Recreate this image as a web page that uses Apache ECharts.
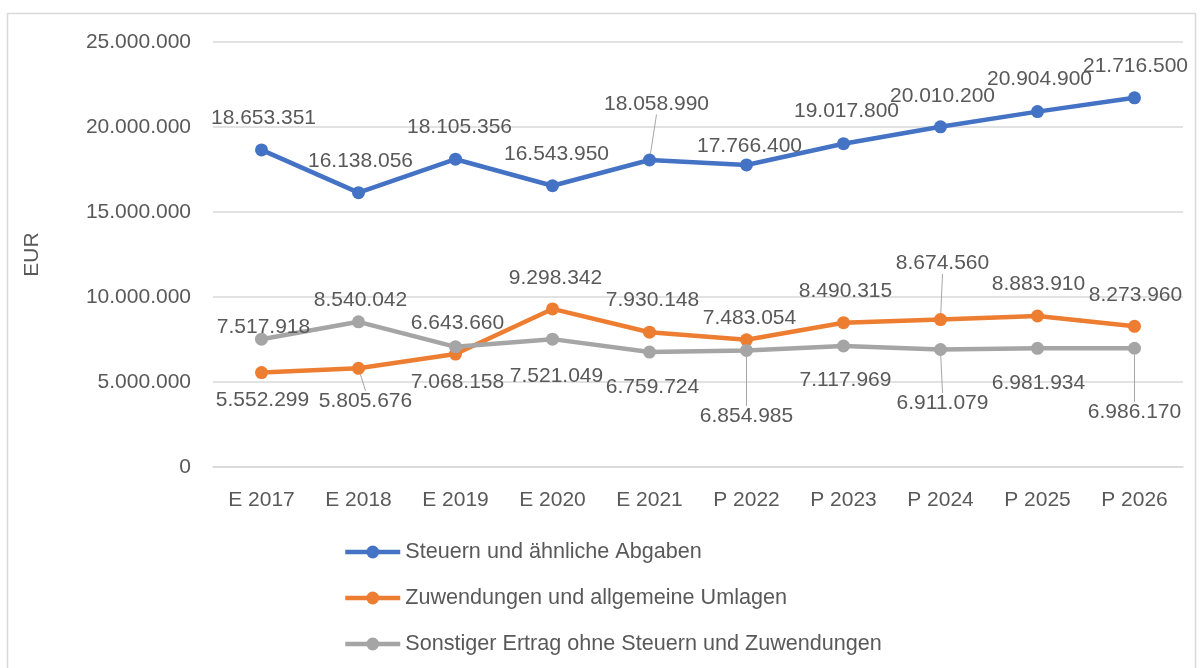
<!DOCTYPE html>
<html><head><meta charset="utf-8">
<script src="https://cdn.jsdelivr.net/npm/echarts@6/dist/echarts.min.js"></script>
<style>html,body{margin:0;padding:0;background:#fff}#c{width:1201px;height:668px}</style>
</head><body><div id="c"></div>
<script>
const categories = ['E 2017','E 2018','E 2019','E 2020','E 2021','P 2022','P 2023','P 2024','P 2025','P 2026'];
const steuern = [18653351,16138056,18105356,16543950,18058990,17766400,19017800,20010200,20904900,21716500];
const zuwendungen = [5552299,5805676,6643660,9298342,7930148,7483054,8490315,8674560,8883910,8273960];
const sonstiger = [7517918,8540042,7068158,7521049,6759724,6854985,7117969,6911079,6981934,6986170];
const seriesNames = ['Steuern und ähnliche Abgaben','Zuwendungen und allgemeine Umlagen','Sonstiger Ertrag ohne Steuern und Zuwendungen'];
const yMin = 0, yMax = 25000000, yStep = 5000000;

// label placement (layout only, offsets from point in px)
const labelOffsets = [
  [[2,-32],[2,-31],[4,-32],[4,-32],[7,-56],[3,-19],[3,-32],[2,-31],[2,-32],[1,-32]],
  [[1,28],[7,33],[2,-31],[3,-31],[3,-32],[3,-22],[2,-31],[2,-56],[1,-32],[1,-31]],
  [[2,-12],[2,-22],[2,35],[4,37],[3,35],[0,66],[2,34],[2,54],[1,35],[0,64]]
];
const leaderIdx = [[4],[1,7],[5,7,9]];
const colors = ['#4472C4','#ED7D31','#A5A5A5'];
const fmt = v => String(v).replace(/\B(?=(\d{3})+(?!\d))/g, '.');
const TXT = '#595959';
const FONT = 'Liberation Sans';

const values = [steuern, zuwendungen, sonstiger];
const chart = echarts.init(document.getElementById('c'), null, {renderer:'canvas'});
chart.setOption({
  animation: false,
  textStyle: {fontFamily: FONT},
  color: colors,
  graphic: [{type:'rect', shape:{x:7.5,y:13.5,width:1188,height:700}, style:{fill:'none', stroke:'#d9d9d9', lineWidth:1.5}, silent:true}],
  grid: {left:213, right:18, top:42, bottom:201},
  legend: {
    orient:'vertical', left:343, top:540, itemWidth:55, itemHeight:16, itemGap:22, padding:0,
    lineStyle:{width:4.5},
    textStyle:{fontSize:21.6, color:TXT, fontFamily:FONT, lineHeight:24},
    data: seriesNames
  },
  xAxis: {
    type:'category', data:categories, boundaryGap:true,
    axisTick:{show:false},
    axisLine:{lineStyle:{color:'#d9d9d9', width:1.5}},
    axisLabel:{fontSize:21, color:TXT, margin:23, fontFamily:FONT}
  },
  yAxis: {
    type:'value', min:yMin, max:yMax, interval:yStep,
    name:'EUR', nameLocation:'middle', nameGap:170,
    nameTextStyle:{fontSize:21, color:TXT, fontFamily:FONT},
    axisLine:{show:false}, axisTick:{show:false},
    splitLine:{lineStyle:{color:'#d9d9d9', width:1.5}},
    axisLabel:{fontSize:21, color:TXT, margin:22, formatter:fmt, fontFamily:FONT}
  },
  series: values.map((arr, si) => ({
    name: seriesNames[si], type:'line',
    data: arr.map((v, i) => leaderIdx[si].includes(i) ? {value:v, labelLine:{show:true}} : v),
    symbol:'circle', symbolSize:13,
    lineStyle:{width:4.5, color:colors[si]},
    itemStyle:{color:colors[si]},
    label:{show:true, position:'inside', formatter: p => fmt(p.value), fontSize:21, color:TXT, fontFamily:FONT},
    labelLine:{show:false, lineStyle:{color:'#a6a6a6', width:1}},
    labelLayout: p => { const o = labelOffsets[si][p.dataIndex]; return {dx:o[0], dy:o[1]}; },
    emphasis:{disabled:true}
  }))
});
</script></body></html>
